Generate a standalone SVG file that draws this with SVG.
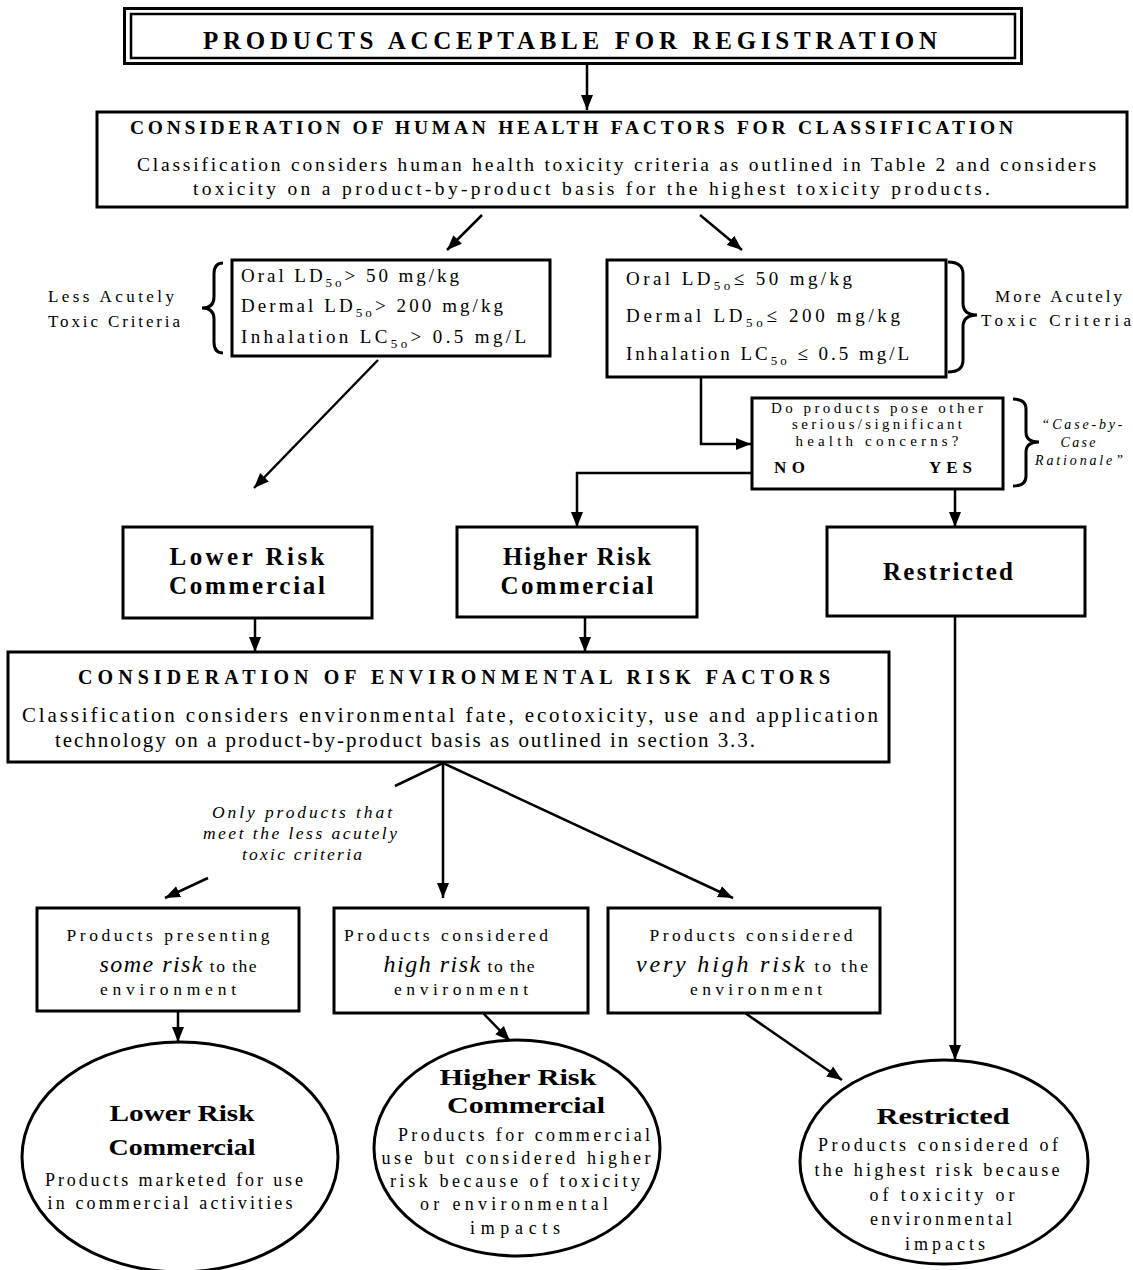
<svg xmlns="http://www.w3.org/2000/svg" width="1133" height="1270" viewBox="0 0 1133 1270">
<defs>
<marker id="ah" markerUnits="userSpaceOnUse" markerWidth="16" markerHeight="14" refX="15" refY="7" orient="auto">
<path d="M0,1 L15,7 L0,13 z" fill="#000"/>
</marker>
<style>
text{font-family:"Liberation Serif","Times New Roman",serif;fill:#000}
.box{fill:#fff;stroke:#000;stroke-width:3}
.ell{fill:#fff;stroke:#000;stroke-width:3}
.br{fill:none;stroke:#000;stroke-width:3}
.cn{fill:none;stroke:#000;stroke-width:2.5}
.ar{marker-end:url(#ah)}
.b{font-weight:bold}
.i{font-style:italic}
.m{text-anchor:middle}
.sub{font-size:13px}
</style>
</defs>
<rect width="1133" height="1270" fill="#fff"/>

<g id="header">
<rect x="124.5" y="8.5" width="897" height="55" fill="#fff" stroke="#000" stroke-width="3"/>
<rect x="131" y="14" width="884" height="44" fill="none" stroke="#000" stroke-width="2.5"/>
<text x="203" y="49" font-size="25" class="b" textLength="734" lengthAdjust="spacing">PRODUCTS ACCEPTABLE FOR REGISTRATION</text>
</g>

<g id="human-health">
<rect class="box" x="97" y="112" width="1030" height="95"/>
<text x="130" y="134" font-size="19.5" class="b" textLength="883" lengthAdjust="spacing">CONSIDERATION OF HUMAN HEALTH FACTORS FOR CLASSIFICATION</text>
<text x="137" y="171" font-size="19.5" textLength="959" lengthAdjust="spacing">Classification considers human health toxicity criteria as outlined in Table 2 and considers</text>
<text x="193" y="195" font-size="19.5" textLength="797" lengthAdjust="spacing">toxicity on a product-by-product basis for the highest toxicity products.</text>
</g>

<g id="less-acute">
<rect class="box" x="232" y="260" width="318" height="96"/>
<text x="241" y="282" font-size="19" textLength="218" lengthAdjust="spacing">Oral LD<tspan class="sub" dy="5">5o</tspan><tspan dy="-5">&gt; 50 mg/kg</tspan></text>
<text x="241" y="312" font-size="19" textLength="262" lengthAdjust="spacing">Dermal LD<tspan class="sub" dy="5">5o</tspan><tspan dy="-5">&gt; 200 mg/kg</tspan></text>
<text x="241" y="343" font-size="19" textLength="285" lengthAdjust="spacing">Inhalation LC<tspan class="sub" dy="5">5o</tspan><tspan dy="-5">&gt; 0.5 mg/L</tspan></text>
<path class="br" d="M223,263 Q214,263 214,274 L214,297 Q214,308 202,308 Q214,308 214,319 L214,342 Q214,353 223,353"/>
<text x="48" y="302" font-size="17" textLength="126" lengthAdjust="spacing">Less Acutely</text>
<text x="48" y="327" font-size="17" textLength="132" lengthAdjust="spacing">Toxic Criteria</text>
</g>

<g id="more-acute">
<rect class="box" x="607" y="260" width="339" height="117"/>
<text x="626" y="285" font-size="19" textLength="226" lengthAdjust="spacing">Oral LD<tspan class="sub" dy="5">5o</tspan><tspan dy="-5">≤ 50 mg/kg</tspan></text>
<text x="626" y="322" font-size="19" textLength="274" lengthAdjust="spacing">Dermal LD<tspan class="sub" dy="5">5o</tspan><tspan dy="-5">≤ 200 mg/kg</tspan></text>
<text x="626" y="360" font-size="19" textLength="283" lengthAdjust="spacing">Inhalation LC<tspan class="sub" dy="5">5o</tspan><tspan dy="-5"> ≤ 0.5 mg/L</tspan></text>
<path class="br" d="M948,262 Q963,262 963,274 L963,303 Q963,315 977,315 Q963,315 963,327 L963,360 Q963,372 948,372"/>
<text x="995" y="302" font-size="17" textLength="127" lengthAdjust="spacing">More Acutely</text>
<text x="981" y="326" font-size="17" textLength="150" lengthAdjust="spacing">Toxic Criteria</text>
</g>

<g id="decision">
<rect class="box" x="752" y="398" width="251" height="91"/>
<text x="877" y="413" font-size="15" class="m" textLength="212" lengthAdjust="spacing">Do products pose other</text>
<text x="877" y="429" font-size="15" class="m" textLength="170" lengthAdjust="spacing">serious/significant</text>
<text x="877" y="446" font-size="15" class="m" textLength="163" lengthAdjust="spacing">health concerns?</text>
<text x="774" y="473" font-size="17" class="b" textLength="31" lengthAdjust="spacing">NO</text>
<text x="929" y="473" font-size="17" class="b" textLength="43" lengthAdjust="spacing">YES</text>
<path class="br" d="M1013,399 Q1026,399 1026,409 L1026,432 Q1026,442 1039,442 Q1026,442 1026,452 L1026,476 Q1026,486 1013,486"/>
<text x="1082" y="429" font-size="14" class="i m" textLength="81" lengthAdjust="spacing">“Case-by-</text>
<text x="1078" y="447" font-size="14" class="i m" textLength="35" lengthAdjust="spacing">Case</text>
<text x="1079" y="465" font-size="14" class="i m" textLength="88" lengthAdjust="spacing">Rationale”</text>
</g>

<g id="lower-risk">
<rect class="box" x="123" y="527" width="249" height="91"/>
<text x="247" y="565" font-size="25" class="b m" textLength="155" lengthAdjust="spacing">Lower Risk</text>
<text x="247" y="594" font-size="25" class="b m" textLength="156" lengthAdjust="spacing">Commercial</text>
</g>

<g id="higher-risk">
<rect class="box" x="457" y="527" width="240" height="90"/>
<text x="577" y="565" font-size="25" class="b m" textLength="148" lengthAdjust="spacing">Higher Risk</text>
<text x="577" y="594" font-size="25" class="b m" textLength="153" lengthAdjust="spacing">Commercial</text>
</g>

<g id="restricted">
<rect class="box" x="827" y="527" width="258" height="89"/>
<text x="948" y="580" font-size="25" class="b m" textLength="130" lengthAdjust="spacing">Restricted</text>
</g>

<g id="environmental">
<rect class="box" x="8" y="652" width="881" height="110"/>
<text x="78" y="684" font-size="20" class="b" textLength="752" lengthAdjust="spacing">CONSIDERATION OF ENVIRONMENTAL RISK FACTORS</text>
<text x="22" y="722" font-size="21" textLength="856" lengthAdjust="spacing">Classification considers environmental fate, ecotoxicity, use and application</text>
<text x="55" y="747" font-size="21" textLength="700" lengthAdjust="spacing">technology on a product-by-product basis as outlined in section 3.3.</text>
</g>

<g id="note">
<text x="302" y="818" font-size="17.5" class="i m" textLength="180" lengthAdjust="spacing">Only products that</text>
<text x="300" y="839" font-size="17.5" class="i m" textLength="194" lengthAdjust="spacing">meet the less acutely</text>
<text x="302" y="860" font-size="17.5" class="i m" textLength="120" lengthAdjust="spacing">toxic criteria</text>
</g>

<g id="some-risk">
<rect class="box" x="37" y="908" width="262" height="103"/>
<text x="168" y="941" font-size="17.5" class="m" textLength="203" lengthAdjust="spacing">Products presenting</text>
<text x="178" y="972" font-size="17.5" class="m" textLength="157" lengthAdjust="spacing"><tspan class="i" font-size="24">some risk</tspan> to the</text>
<text x="168" y="995" font-size="17.5" class="m" textLength="136" lengthAdjust="spacing">environment</text>
</g>

<g id="high-risk">
<rect class="box" x="334" y="908" width="254" height="105"/>
<text x="446" y="941" font-size="17.5" class="m" textLength="204" lengthAdjust="spacing">Products considered</text>
<text x="459" y="972" font-size="17.5" class="m" textLength="151" lengthAdjust="spacing"><tspan class="i" font-size="24">high risk</tspan> to the</text>
<text x="461" y="995" font-size="17.5" class="m" textLength="134" lengthAdjust="spacing">environment</text>
</g>

<g id="very-high-risk">
<rect class="box" x="608" y="908" width="272" height="105"/>
<text x="751" y="941" font-size="17.5" class="m" textLength="203" lengthAdjust="spacing">Products considered</text>
<text x="752" y="972" font-size="17.5" class="m" textLength="232" lengthAdjust="spacing"><tspan class="i" font-size="24">very high risk</tspan> to the</text>
<text x="756" y="995" font-size="17.5" class="m" textLength="132" lengthAdjust="spacing">environment</text>
</g>

<g id="final-lower">
<ellipse class="ell" cx="180" cy="1157" rx="158" ry="115"/>
<text x="182" y="1121" font-size="24" class="b m" textLength="145" lengthAdjust="spacingAndGlyphs">Lower Risk</text>
<text x="182" y="1155" font-size="24" class="b m" textLength="147" lengthAdjust="spacingAndGlyphs">Commercial</text>
<text x="174" y="1186" font-size="18" class="m" textLength="258" lengthAdjust="spacing">Products marketed for use</text>
<text x="170" y="1209" font-size="18" class="m" textLength="245" lengthAdjust="spacing">in commercial activities</text>
</g>

<g id="final-higher">
<ellipse class="ell" cx="517" cy="1148" rx="143" ry="108"/>
<text x="518" y="1085" font-size="24" class="b m" textLength="157" lengthAdjust="spacingAndGlyphs">Higher Risk</text>
<text x="526" y="1113" font-size="24" class="b m" textLength="158" lengthAdjust="spacingAndGlyphs">Commercial</text>
<text x="524" y="1141" font-size="18" class="m" textLength="252" lengthAdjust="spacing">Products for commercial</text>
<text x="516" y="1164" font-size="18" class="m" textLength="269" lengthAdjust="spacing">use but considered higher</text>
<text x="515" y="1187" font-size="18" class="m" textLength="250" lengthAdjust="spacing">risk because of toxicity</text>
<text x="514" y="1210" font-size="18" class="m" textLength="188" lengthAdjust="spacing">or environmental</text>
<text x="515" y="1234" font-size="18" class="m" textLength="90" lengthAdjust="spacing">impacts</text>
</g>

<g id="final-restricted">
<ellipse class="ell" cx="944" cy="1162" rx="144" ry="102"/>
<text x="943" y="1124" font-size="24" class="b m" textLength="133" lengthAdjust="spacingAndGlyphs">Restricted</text>
<text x="938" y="1151" font-size="18" class="m" textLength="240" lengthAdjust="spacing">Products considered of</text>
<text x="937" y="1176" font-size="18" class="m" textLength="245" lengthAdjust="spacing">the highest risk because</text>
<text x="942" y="1201" font-size="18" class="m" textLength="145" lengthAdjust="spacing">of toxicity or</text>
<text x="941" y="1225" font-size="18" class="m" textLength="142" lengthAdjust="spacing">environmental</text>
<text x="945" y="1250" font-size="18" class="m" textLength="80" lengthAdjust="spacing">impacts</text>
</g>

<g id="connectors">
<path class="cn ar" d="M587,65 V110"/>
<path class="cn ar" d="M482,215 L447,250"/>
<path class="cn ar" d="M700,215 L742,250"/>
<path class="cn ar" d="M378,360 L254,488"/>
<path class="cn ar" d="M701,377 V444 H751"/>
<path class="cn ar" d="M752,473 H577 V527"/>
<path class="cn ar" d="M955,489 V527"/>
<path class="cn ar" d="M255,618 V652"/>
<path class="cn ar" d="M585,617 V652"/>
<path class="cn" d="M443,763 L395,786"/>
<path class="cn ar" d="M208,878 L165,898"/>
<path class="cn ar" d="M443,763 V898"/>
<path class="cn ar" d="M443,763 L733,898"/>
<path class="cn ar" d="M178,1011 V1042"/>
<path class="cn ar" d="M483,1013 L510,1041"/>
<path class="cn ar" d="M745,1013 L842,1080"/>
<path class="cn ar" d="M955,616 V1060"/>
</g>
</svg>
